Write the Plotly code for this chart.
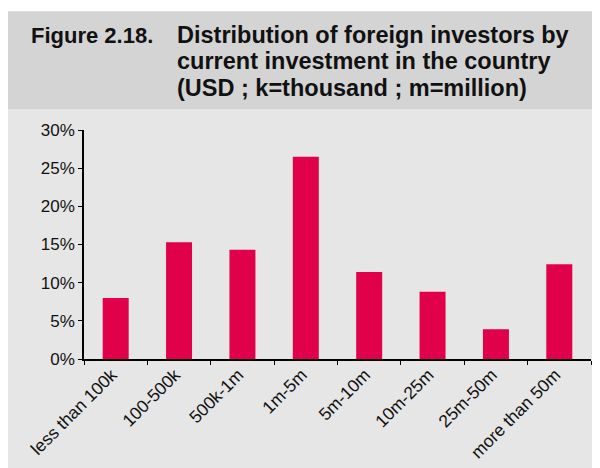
import plotly.graph_objects as go

categories = ["less than 100k", "100-500k", "500k-1m", "1m-5m", "5m-10m",
              "10m-25m", "25m-50m", "more than 50m"]
shares = [0.080, 0.153, 0.143, 0.265, 0.114, 0.088, 0.039, 0.124]
y_ticks = [0, 0.05, 0.10, 0.15, 0.20, 0.25, 0.30]
y_tick_labels = ["0%", "5%", "10%", "15%", "20%", "25%", "30%"]
title_label = "Figure 2.18."
title_lines = ["Distribution of foreign investors by",
               "current investment in the country",
               "(USD ; k=thousand ; m=million)"]

# page body has an 8px margin, so the figure is drawn 8px in from the corner
OFF = 8
W, H = 600 - OFF, 468 - OFF
L, R, T, B = 84 - OFF, 9, 130 - OFF, 108.5
pw = W - L - R
ph = H - T - B

def px(X):
    return (X - OFF - L) / pw

def py(Y):
    return (H - B - (Y - OFF)) / ph

fig = go.Figure(go.Bar(x=categories, y=shares, marker_color="#E1004A",
                       marker_line_width=0, width=0.41))

fig.add_shape(type="rect", xref="paper", yref="paper", x0=px(8), x1=px(610),
              y0=py(109), y1=py(11), fillcolor="#d4d4d4", line_width=0, layer="below")
fig.add_shape(type="rect", xref="paper", yref="paper", x0=px(8), x1=px(610),
              y0=py(480), y1=py(109), fillcolor="#e6e6e6", line_width=0, layer="below")

TF = "Liberation Sans, Arial"
fig.add_annotation(text=title_label, xref="paper", yref="paper", x=px(29), y=py(35),
                   xanchor="left", yanchor="middle", showarrow=False,
                   font=dict(family=TF, size=22, color="#111111", weight="bold"))
for i, line in enumerate(title_lines):
    fig.add_annotation(text=line, xref="paper", yref="paper", x=px(175), y=py(35 + 26.3 * i),
                       xanchor="left", yanchor="middle", showarrow=False,
                       font=dict(family=TF, size=23.5, color="#111111", weight="bold"))

fig.update_layout(
    width=W, height=H, margin=dict(l=L, r=R, t=T, b=B, autoexpand=False),
    paper_bgcolor="white", plot_bgcolor="rgba(0,0,0,0)",
    showlegend=False,
    font=dict(family="Liberation Sans, Arial", size=17, color="#111111"),
)
fig.update_xaxes(showline=True, linecolor="black", linewidth=1.5, ticks="outside",
                 tickson="boundaries", ticklen=4, tickcolor="black", tickangle=-45,
                 ticklabelshift=-4, ticklabelstandoff=-3, tickfont_size=17.5,
                 showgrid=False, zeroline=False)
fig.update_yaxes(range=[0, 0.30], tickvals=y_ticks, ticktext=y_tick_labels,
                 showline=True, linecolor="black", linewidth=1.5, ticks="outside",
                 ticklen=4, tickcolor="black", showgrid=False, zeroline=False)

fig.write_html("out.html")
